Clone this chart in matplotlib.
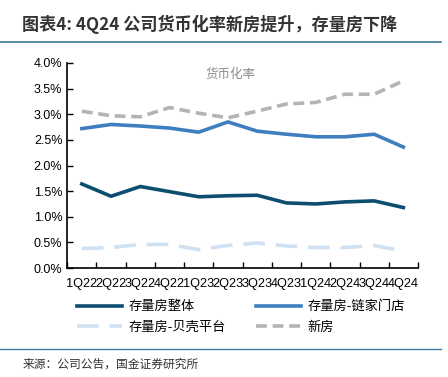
import matplotlib
matplotlib.use("Agg")
import matplotlib.pyplot as plt
from matplotlib.ticker import FuncFormatter, FixedLocator
import numpy as np

plt.rcParams['font.family'] = ['Noto Sans CJK SC', 'DejaVu Sans']

quarters = ["1Q22", "2Q22", "3Q22", "4Q22", "1Q23", "2Q23", "3Q23", "4Q23",
            "1Q24", "2Q24", "3Q24", "4Q24"]
existing_total = [1.64, 1.40, 1.59, 1.49, 1.39, 1.41, 1.42, 1.27, 1.25, 1.29, 1.31, 1.18]
lianjia = [2.72, 2.80, 2.77, 2.73, 2.65, 2.85, 2.67, 2.61, 2.56, 2.56, 2.61, 2.36]
beike = [0.38, 0.40, 0.46, 0.46, 0.36, 0.44, 0.49, 0.43, 0.40, 0.40, 0.44, 0.33]
new_home = [3.06, 2.97, 2.95, 3.13, 3.02, 2.93, 3.06, 3.20, 3.23, 3.39, 3.39, 3.65]

fig = plt.figure(figsize=(4.48, 3.77), dpi=100)
ax = fig.add_axes([0.150, 0.289, 0.783, 0.544])

x = np.arange(len(quarters))
l1, = ax.plot(x, existing_total, color="#0d4d70", lw=2.6, label="存量房整体")
l3, = ax.plot(x, beike, color="#cfe1f2", lw=2.6, dashes=(6, 3), label="存量房-贝壳平台")
l2, = ax.plot(x, lianjia, color="#3f7fbf", lw=2.6, label="存量房-链家门店")
l4, = ax.plot(x, new_home, color="#b4b4b4", lw=2.6, dashes=(3, 1.6), label="新房")

ax.set_xlim(-0.5, len(quarters) - 0.5)
ax.set_ylim(0, 4.0)
ax.set_yticks(np.arange(0, 4.01, 0.5))
ax.yaxis.set_major_formatter(FuncFormatter(lambda v, p: f"{v:.1f}%"))

ax.xaxis.set_major_locator(FixedLocator(np.arange(-0.5, len(quarters), 1.0)))
ax.set_xticklabels([])
ax.xaxis.set_minor_locator(FixedLocator(x))
ax.set_xticklabels(quarters, minor=True)
ax.tick_params(axis="x", which="minor", length=0, pad=7)
ax.tick_params(axis="x", which="major", direction="in", length=4, width=1)
ax.tick_params(axis="y", direction="in", length=4, width=1)
for lab in ax.get_xticklabels(minor=True) + ax.get_yticklabels():
    lab.set_fontfamily("Liberation Sans")
    lab.set_fontsize(9)
for lab in ax.get_xticklabels(minor=True):
    lab.set_fontsize(9.2)

ax.spines["top"].set_visible(False)
ax.spines["right"].set_visible(False)
ax.spines["left"].set_linewidth(1.2)
ax.spines["bottom"].set_linewidth(1.2)

ax.text(0.465, 0.975, "货币化率", transform=ax.transAxes, ha="center", va="top",
        fontsize=9, color="#8c8c8c")

leg = fig.legend(handles=[l1, l3, l2, l4], ncol=2, loc="upper left",
                 frameon=False, fontsize=9.5, handlelength=3.4, handletextpad=0.5,
                 columnspacing=2.3, labelspacing=0.55)
leg.set_bbox_to_anchor((0.145, 0.235), transform=fig.transFigure)

fig.text(0.05, 0.935, "图表4: 4Q24 公司货币化率新房提升，存量房下降", fontsize=12.3,
         fontweight="bold", color="#333333", va="center")
fig.add_artist(plt.Line2D([0.0, 0.985], [0.888, 0.888], color="#3e7a9c", lw=1.2,
                          transform=fig.transFigure))
fig.add_artist(plt.Line2D([0.0, 0.985], [0.074, 0.074], color="#3e7a9c", lw=1.0,
                          transform=fig.transFigure))
fig.text(0.05, 0.034, "来源：公司公告，国金证券研究所", fontsize=8.5, color="#333333",
         va="center")

fig.savefig("out.png", dpi=100)
